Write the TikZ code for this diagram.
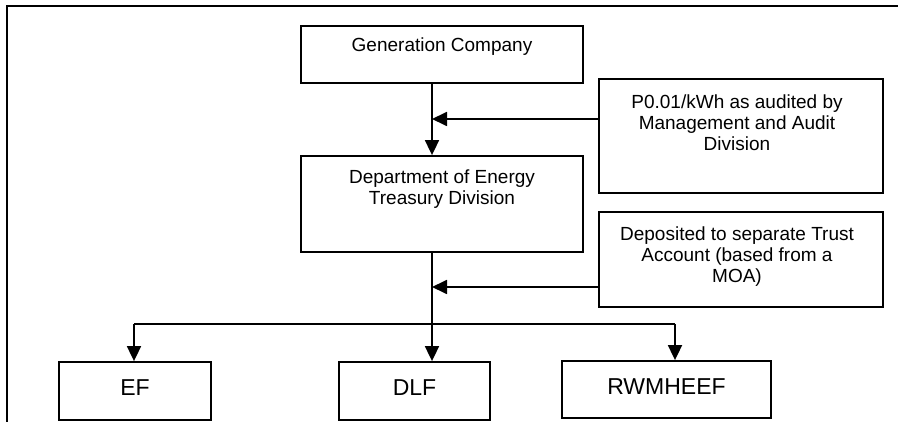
\documentclass[tikz,border=0pt]{standalone}
\usepackage{fontspec}
\setmainfont{Liberation Sans}
\usetikzlibrary{arrows.meta}
\begin{document}
\begin{tikzpicture}[x=1pt,y=-1pt,
  box/.style={draw=black,line width=1.8pt,rectangle,inner sep=0pt},
  txt/.style={font=\fontsize{19}{21}\selectfont,align=center,inner sep=0pt},
  big/.style={font=\fontsize{23}{25}\selectfont,inner sep=0pt},
  conn/.style={draw=black,line width=1.8pt},
  arr/.style={conn,-{Triangle[length=15pt,width=14pt]}}]
\useasboundingbox (0,0) rectangle (898,422);
% frame
\coordinate (fbl) at (7,422);
\coordinate (ftl) at (7,6);
\coordinate (ftr) at (898,6);
\draw[line width=2.2pt] (fbl) -- (ftl) -- (ftr);
% boxes
\node[box,minimum width=282pt,minimum height=57pt] (gen) at (442,54.5) {};
\node[txt] (gent) at (442,47) {Generation Company};
\node[box,minimum width=282pt,minimum height=96pt] (dept) at (442,204) {};
\node[txt] (deptt) at (442,189) {Department of Energy\\Treasury Division};
\node[box,minimum width=284pt,minimum height=114pt] (aud) at (741,136) {};
\node[txt] (audt) at (737,123) {P0.01/kWh as audited by\\Management and Audit\\Division};
\node[box,minimum width=284pt,minimum height=95pt] (dep) at (741,259.5) {};
\node[txt] (dept2) at (737,257) {Deposited to separate Trust\\Account (based from a\\MOA)};
\node[box,minimum width=152pt,minimum height=58pt] (ef) at (135,391) {};
\node[big] (eft) at (135,388) {EF};
\node[box,minimum width=151pt,minimum height=58pt] (dlf) at (414.5,391) {};
\node[big] (dlft) at (414.5,388) {DLF};
\node[box,minimum width=209pt,minimum height=57pt] (rw) at (666.5,389.5) {};
\node[big] (rwt) at (666.5,387) {RWMHEEF};
% connectors
\coordinate (a1) at (432,119);
\coordinate (a2) at (432,287);
\coordinate (br) at (432,324);
\draw[arr] (gen.south -| a1) -- (dept.north -| a1);
\draw[arr] (aud.west |- a1) -- (a1);
\draw[arr] (dept.south -| a2) -- (dlf.north -| a2);
\draw[arr] (dep.west |- a2) -- (a2);
\coordinate (bl) at (134,324);
\coordinate (brr) at (675,324);
\draw[conn] (bl) -- (brr);
\draw[arr] (bl) -- (ef.north -| bl);
\draw[arr] (brr) -- (rw.north -| brr);
\end{tikzpicture}
\end{document}
